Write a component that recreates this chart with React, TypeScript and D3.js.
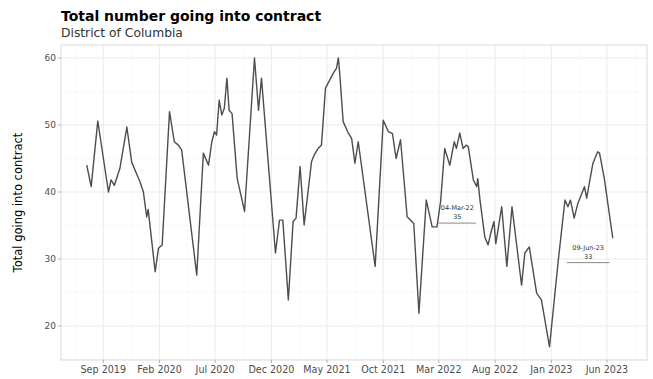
import React from "react";
import * as d3 from "d3";

const dates: string[] = [
  "2019-07-18","2019-07-30","2019-08-17","2019-09-15","2019-09-22","2019-10-01","2019-10-16","2019-11-04","2019-11-17","2019-11-26",
  "2019-12-10","2019-12-19","2019-12-28","2020-01-01","2020-01-20","2020-01-29","2020-02-08","2020-02-28","2020-03-12","2020-03-23",
  "2020-04-01","2020-05-12","2020-05-30","2020-06-13","2020-06-22","2020-06-29","2020-07-05","2020-07-12","2020-07-19","2020-07-26",
  "2020-08-02","2020-08-08","2020-08-16","2020-08-30","2020-09-19","2020-10-16","2020-10-27","2020-11-04","2020-12-12","2020-12-23",
  "2021-01-01","2021-01-16","2021-01-29","2021-02-06","2021-02-17","2021-02-28","2021-03-20","2021-03-27","2021-04-07","2021-04-16",
  "2021-04-27","2021-05-18","2021-05-27","2021-06-01","2021-06-05","2021-06-14","2021-06-28","2021-07-07","2021-07-16","2021-07-25",
  "2021-09-09","2021-10-01","2021-10-15","2021-10-26","2021-11-05","2021-11-17","2021-12-05","2021-12-23","2022-01-06","2022-01-26",
  "2022-02-11","2022-02-24","2022-03-06","2022-03-17","2022-03-31","2022-04-12","2022-04-18","2022-04-27","2022-05-06","2022-05-15",
  "2022-05-20","2022-06-03","2022-06-12","2022-06-15","2022-06-21","2022-07-04","2022-07-13","2022-07-20","2022-07-29","2022-08-03",
  "2022-08-19","2022-09-02","2022-09-16","2022-10-12","2022-10-21","2022-11-02","2022-11-22","2022-12-05","2022-12-27","2023-01-20",
  "2023-02-07","2023-02-15","2023-02-22","2023-03-04","2023-03-14","2023-04-01","2023-04-07","2023-04-24","2023-05-07","2023-05-12",
  "2023-05-25","2023-06-17"
];

const values: number[] = [
  44.0,40.8,50.6,40.0,41.8,41.0,43.5,49.7,44.5,43.3,
  41.5,40.0,36.3,37.4,28.1,31.6,32.1,52.0,47.5,47.0,
  46.3,27.6,45.8,44.0,47.5,49.0,48.5,53.7,51.5,52.5,
  57.0,52.2,51.7,42.0,37.1,60.0,52.2,57.0,30.9,35.8,
  35.8,23.9,35.6,36.1,43.8,35.1,44.5,45.5,46.5,47.0,
  55.5,57.7,58.5,60.0,57.5,50.5,48.8,48.0,44.3,47.5,
  28.9,50.7,49.0,48.7,45.0,47.8,36.3,35.3,21.9,38.8,
  34.8,34.8,38.6,46.5,44.0,47.5,46.5,48.8,46.5,47.0,
  46.8,41.8,40.8,42.0,38.8,33.3,32.1,33.8,35.6,32.3,
  37.8,28.9,37.8,26.1,30.9,31.8,24.9,23.9,16.9,29.9,
  38.8,37.8,38.8,36.1,38.3,40.8,39.1,44.3,46.0,45.8,
  42.0,33.1
];

const tickDates: string[] = ["2019-09-01","2020-02-01","2020-07-01","2020-12-01","2021-05-01","2021-10-01","2022-03-01","2022-08-01","2023-01-01","2023-06-01"];
const tickLabels: string[] = ["Sep 2019","Feb 2020","Jul 2020","Dec 2020","May 2021","Oct 2021","Mar 2022","Aug 2022","Jan 2023","Jun 2023"];
const yTicks: number[] = [20, 30, 40, 50, 60];
const yMinor: number[] = [15, 25, 35, 45, 55];

// annotations: label text, value shown, and where the label sits (date of its left end, value level of its text)
const annoLabels: string[] = ["04-Mar-22", "09-Jun-23"];
const annoValues: number[] = [35, 33];
const annoStart: string[] = ["2022-03-01", "2023-02-12"];
const annoEnd: string[] = ["2022-06-10", "2023-06-08"];
const annoLevel: number[] = [37.6, 31.7];

const title = "Total number going into contract";
const subtitle = "District of Columbia";
const yTitle = "Total going into contract";

const W = 653, H = 379;
const M = { left: 61, right: 647, top: 45, bottom: 360 };
const FONT = "DejaVu Sans, sans-serif";

export default function App() {
  const parse = d3.timeParse("%Y-%m-%d");
  const data = dates.map((d, i) => ({ date: parse(d) as Date, value: values[i] }));
  const x = d3.scaleTime()
    .domain([parse("2019-05-09") as Date, parse("2023-09-18") as Date])
    .range([M.left, M.right]);
  const y = d3.scaleLinear().domain([14.93, 61.94]).range([M.bottom, M.top]);
  const line = d3.line<{ date: Date; value: number }>().x(d => x(d.date)).y(d => y(d.value));

  const ticks = tickDates.map(d => parse(d) as Date);
  const minor: Date[] = [];
  for (let i = 0; i < ticks.length - 1; i++) {
    minor.push(new Date((ticks[i].getTime() + ticks[i + 1].getTime()) / 2));
  }
  const step = ticks[1].getTime() - ticks[0].getTime();
  minor.unshift(new Date(ticks[0].getTime() - step / 2));
  minor.push(new Date(ticks[ticks.length - 1].getTime() + step / 2));
  const minorIn = minor.filter(d => x(d) > M.left && x(d) < M.right);

  return (
    <svg width={W} height={H} style={{ position: "absolute", left: 0, top: 0, background: "#fff" }}>
      <text x={M.left} y={21} fontFamily={FONT} fontWeight="bold" fontSize={14} fill="#000">{title}</text>
      <text x={M.left} y={37} fontFamily={FONT} fontSize={12.3} fill="#333">{subtitle}</text>
      <rect x={M.left} y={M.top} width={M.right - M.left} height={M.bottom - M.top} fill="#fff" />
      {yMinor.map(v => (
        <line key={"ym" + v} x1={M.left} x2={M.right} y1={y(v)} y2={y(v)} stroke="#f2f2f2" strokeWidth={0.5} />
      ))}
      {minorIn.map((d, i) => (
        <line key={"xm" + i} x1={x(d)} x2={x(d)} y1={M.top} y2={M.bottom} stroke="#f2f2f2" strokeWidth={0.5} />
      ))}
      {yTicks.map(v => (
        <line key={"yg" + v} x1={M.left} x2={M.right} y1={y(v)} y2={y(v)} stroke="#ebebeb" strokeWidth={1} />
      ))}
      {ticks.map((d, i) => (
        <line key={"xg" + i} x1={x(d)} x2={x(d)} y1={M.top} y2={M.bottom} stroke="#ebebeb" strokeWidth={1} />
      ))}
      <path d={line(data) || ""} fill="none" stroke="#4d4d4d" strokeWidth={1.4} strokeLinejoin="round" />
      {annoLabels.map((lab, i) => {
        const x0 = x(parse(annoStart[i]) as Date);
        const x1 = x(parse(annoEnd[i]) as Date);
        const cx = (x0 + x1) / 2;
        const cy = y(annoLevel[i]);
        return (
          <g key={"a" + i} fontFamily={FONT} fontSize={6.5} fill="#333" textAnchor="middle">
            <text x={cx} y={cy} dy="0.35em">{lab}</text>
            <text x={cx} y={cy + 9} dy="0.35em">{annoValues[i]}</text>
            <line x1={x0} x2={x1} y1={cy + 15} y2={cy + 15} stroke="#555" strokeWidth={0.7} />
          </g>
        );
      })}
      <rect x={M.left} y={M.top} width={M.right - M.left} height={M.bottom - M.top} fill="none" stroke="#d9d9d9" strokeWidth={1} />
      {yTicks.map(v => (
        <g key={"yt" + v}>
          <line x1={M.left - 3} x2={M.left} y1={y(v)} y2={y(v)} stroke="#b3b3b3" />
          <text x={M.left - 5} y={y(v)} dy="0.35em" textAnchor="end" fontFamily={FONT} fontSize={9} fill="#4d4d4d">{v}</text>
        </g>
      ))}
      {ticks.map((d, i) => (
        <g key={"xt" + i}>
          <line x1={x(d)} x2={x(d)} y1={M.bottom} y2={M.bottom + 3} stroke="#b3b3b3" />
          <text x={x(d)} y={M.bottom + 13} textAnchor="middle" fontFamily={FONT} fontSize={9.6} fill="#4d4d4d">{tickLabels[i]}</text>
        </g>
      ))}
      <text transform={`translate(22, ${(M.top + M.bottom) / 2}) rotate(-90)`} textAnchor="middle" fontFamily={FONT} fontSize={11.5} fill="#000">{yTitle}</text>
    </svg>
  );
}
